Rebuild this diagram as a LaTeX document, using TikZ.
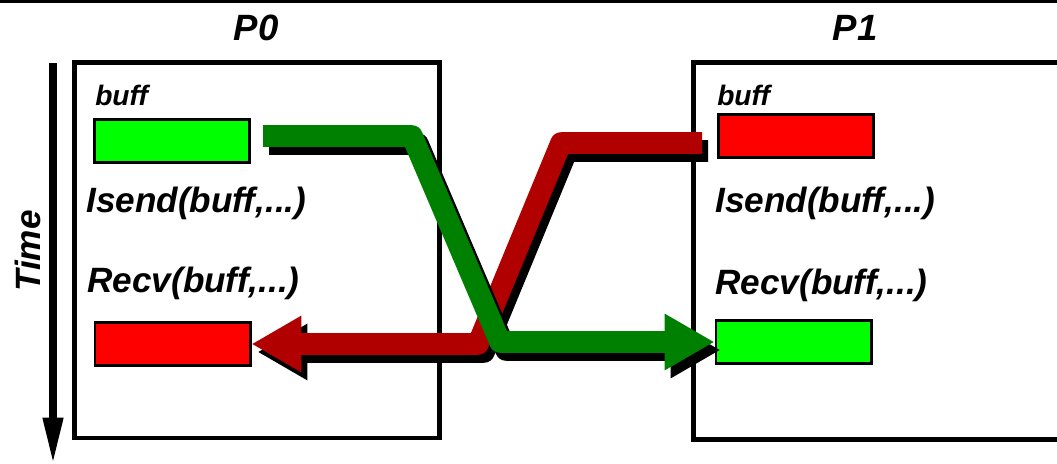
\documentclass[tikz,border=0pt]{standalone}
\usepackage{fontspec}
\setmainfont{Liberation Sans}
\usepackage{xcolor}
\usetikzlibrary{arrows.meta}
\definecolor{bufgreen}{RGB}{0,255,0}
\definecolor{bufred}{RGB}{255,0,0}
\definecolor{msggreen}{RGB}{0,128,0}
\definecolor{msgred}{RGB}{176,0,0}
\tikzset{
  buffer/.style={draw, line width=2.1pt, minimum width=3.875cm, minimum height=1.075cm, inner sep=0pt},
  biglbl/.style={font=\fontsize{25}{25}\selectfont\bfseries\itshape, inner sep=0pt},
  smalllbl/.style={font=\fontsize{20}{20}\selectfont\bfseries\itshape, inner sep=0pt},
  msg/.style={line width=15.3pt, line join=round, -{Triangle[length=35.5pt,width=37.7pt]}},
}

\begin{document}
\begin{tikzpicture}[x=0.025cm,y=-0.025cm]
\useasboundingbox (0,0) rectangle (1057,464);
\clip (0,0) rectangle (1057,464);
\draw [line width=2.1pt] (0,1.5) -- (1057,1.5);

% Time axis
\draw [line width=5.3pt, -{Triangle[length=33pt,width=13.5pt]}] (53,63) -- (53,464);
\node[biglbl, rotate=90] (time) at (27.5,251) {Time};

% Process P0
\draw [line width=3.5pt] (74.5,62.5) rectangle (439.5,438);
\node[biglbl, font=\fontsize{26}{26}\selectfont\bfseries\itshape] (p0) at (256,28) {P0};
\node[smalllbl, anchor=base west] (buff0) at (95,106) {buff};
\node[buffer, fill=bufgreen] (b0s) at (172,141) {};
\node[biglbl, anchor=base west] (isend0) at (86,213) {Isend(buff,...)};
\node[biglbl, anchor=base west] (recv0) at (87,293) {Recv(buff,...)};
\node[buffer, fill=bufred] (b0r) at (172.5,344) {};

% Process P1
\draw [line width=3.5pt] (693.5,62.5) rectangle (1070,439.5);
\node[biglbl, font=\fontsize{26}{26}\selectfont\bfseries\itshape] (p1) at (855,28) {P1};
\node[smalllbl, anchor=base west] (buff1) at (717,106) {buff};
\node[buffer, fill=bufred] (b1s) at (796,136) {};
\node[biglbl, anchor=base west] (isend1) at (715,213) {Isend(buff,...)};
\node[biglbl, anchor=base west] (recv1) at (715,295) {Recv(buff,...)};
\node[buffer, fill=bufgreen] (b1r) at (793.5,342) {};

% P1 -> P0 message
\coordinate (r0) at (702,143);
\coordinate (r1) at (561,143);
\coordinate (r2) at (478,344);
\draw [msg, black] ([shift={(6,8)}]r0) -- ([shift={(6,8)}]r1) -- ([shift={(6,8)}]r2) -- ([shift={(6,8)}]b0r.east);
\draw [msg, msgred] (r0) -- (r1) -- (r2) -- (b0r.east);

% P0 -> P1 message
\coordinate (g0) at (263,136);
\coordinate (g1) at (412,136);
\coordinate (g2) at (500,342);
\draw [msg, black] ([shift={(6,8)}]g0) -- ([shift={(6,8)}]g1) -- ([shift={(6,8)}]g2) -- ([shift={(6,8)}]b1r.west);
\draw [msg, msggreen] (g0) -- (g1) -- (g2) -- (b1r.west);
\end{tikzpicture}
\end{document}
